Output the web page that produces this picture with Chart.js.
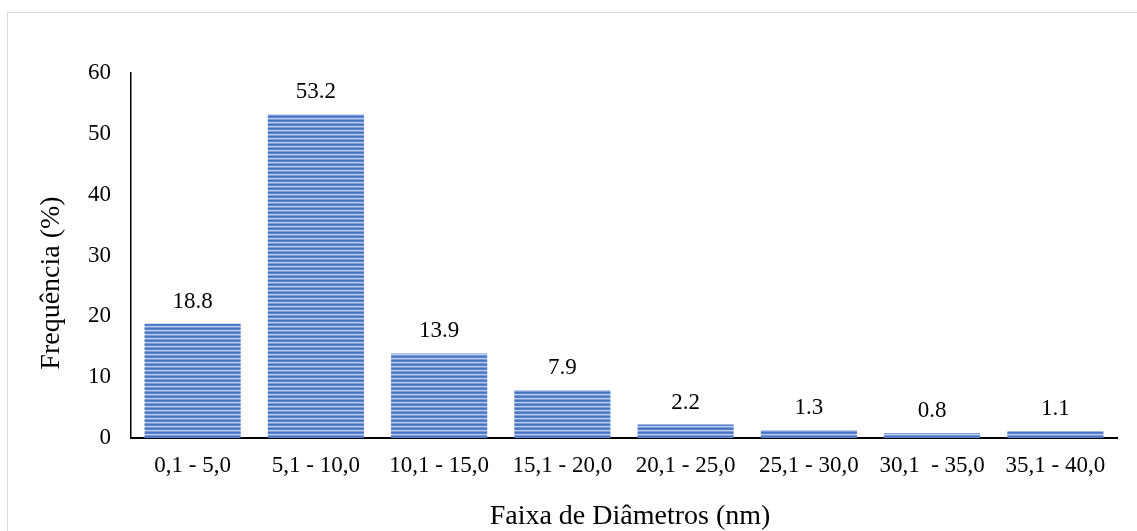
<!DOCTYPE html>
<html>
<head>
<meta charset="utf-8">
<script src="https://cdn.jsdelivr.net/npm/chart.js@4/dist/chart.umd.min.js"></script>
<style>
  html, body { margin: 0; padding: 0; background: #fff; overflow: hidden; }
  #wrap { position: relative; width: 1137px; height: 531px; }
  #frame { position: absolute; left: 7px; top: 12px; width: 1140px; height: 530px; border: 1px solid #d9d9d9; box-sizing: border-box; }
  canvas { position: absolute; left: 0; top: 0; }
</style>
</head>
<body>
<div id="wrap">
  <div id="frame"></div>
  <canvas id="chart" width="1137" height="531"></canvas>
</div>
<script>
// Diameter ranges and their frequencies (%)
const categories = ['0,1 - 5,0', '5,1 - 10,0', '10,1 - 15,0', '15,1 - 20,0', '20,1 - 25,0', '25,1 - 30,0', '30,1  - 35,0', '35,1 - 40,0'];
const frequencies = [18.8, 53.2, 13.9, 7.9, 2.2, 1.3, 0.8, 1.1];
const yTicks = [0, 10, 20, 30, 40, 50, 60];
const xTitle = 'Faixa de Diâmetros (nm)';
const yTitle = 'Frequência (%)';

const FONT = "'Liberation Serif', 'Times New Roman', serif";

// Horizontal striped fill for the bars
function stripePattern() {
  const c = document.createElement('canvas');
  c.width = 4; c.height = 4;
  const g = c.getContext('2d');
  const rows = ['#4472c4', '#5a84cf', '#bccbea', '#7c9bd7'];
  rows.forEach((col, i) => { g.fillStyle = col; g.fillRect(0, i, 4, 1); });
  return g.createPattern(c, 'repeat');
}

// Value labels above each bar and the two axis titles
const annotations = {
  id: 'annotations',
  afterDatasetsDraw(chart) {
    const ctx = chart.ctx;
    const meta = chart.getDatasetMeta(0);
    ctx.save();
    ctx.fillStyle = '#000';
    ctx.textAlign = 'center';
    ctx.textBaseline = 'middle';
    ctx.font = '23px ' + FONT;
    meta.data.forEach((bar, i) => {
      ctx.fillText(frequencies[i].toFixed(1), bar.x, bar.y - 22);
    });

    ctx.font = '28px ' + FONT;
    const area = chart.chartArea;
    ctx.fillText(xTitle, (area.left + area.right) / 2 + 6, 517);

    ctx.translate(52, 283);
    ctx.rotate(-Math.PI / 2);
    ctx.fillText(yTitle, 0, 0);
    ctx.restore();
  }
};

new Chart(document.getElementById('chart'), {
  type: 'bar',
  data: {
    labels: categories,
    datasets: [{
      data: frequencies,
      backgroundColor: stripePattern(),
      borderWidth: 0,
      barPercentage: 0.78,
      categoryPercentage: 1.0
    }]
  },
  options: {
    responsive: false,
    animation: false,
    devicePixelRatio: 1,
    layout: { padding: { top: 73, right: 20, left: 0, bottom: 0 } },
    plugins: { legend: { display: false }, tooltip: { enabled: false } },
    scales: {
      x: {
        grid: { display: false, drawTicks: false },
        border: { display: true, color: '#000', width: 2 },
        ticks: { color: '#000', font: { family: FONT, size: 23 }, padding: 14, maxRotation: 0, autoSkip: false },
        afterFit(scale) { scale.height = 93; }
      },
      y: {
        min: 0,
        max: 60,
        afterBuildTicks(scale) { scale.ticks = yTicks.map(v => ({ value: v })); },
        grid: { display: false, drawTicks: false },
        border: { display: true, color: '#000', width: 1.5 },
        ticks: { color: '#000', font: { family: FONT, size: 23 }, padding: 20 },
        afterFit(scale) { scale.width = 131; }
      }
    }
  },
  plugins: [annotations]
});
</script>
</body>
</html>
